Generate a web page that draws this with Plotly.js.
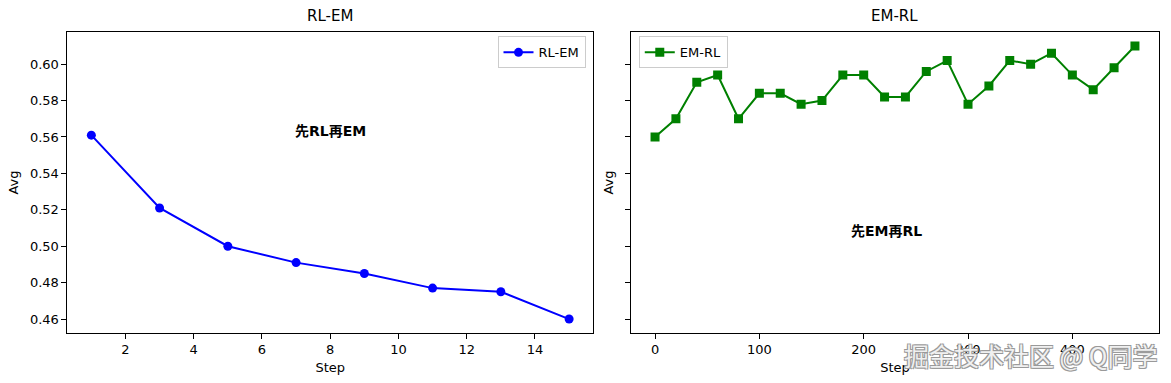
<!DOCTYPE html>
<html>
<head>
<meta charset="utf-8">
<script src="https://cdn.plot.ly/plotly-3.0.1.min.js"></script>
<style>html,body{margin:0;padding:0;background:#fff;}#chart{width:1171px;height:383px;}</style>
</head>
<body>
<div id="chart"></div>
<script>
// Data
const rlemSteps = [1, 3, 5, 7, 9, 11, 13, 15];
const rlemAvg = [0.561, 0.521, 0.500, 0.491, 0.485, 0.477, 0.475, 0.460];
const emrlSteps = [0, 20, 40, 60, 80, 100, 120, 140, 160, 180, 200, 220, 240, 260, 280, 300, 320, 340, 360, 380, 400, 420, 440, 460];
const emrlAvg = [0.560, 0.570, 0.590, 0.594, 0.570, 0.584, 0.584, 0.578, 0.580, 0.594, 0.594, 0.582, 0.582, 0.596, 0.602, 0.578, 0.588, 0.602, 0.600, 0.606, 0.594, 0.586, 0.598, 0.610];
const titles = ["RL-EM", "EM-RL"];
const notes = ["先RL再EM", "先EM再RL"];
const watermark = "掘金技术社区 @ Q同学";

const FONT = "DejaVu Sans, Noto Sans CJK SC, sans-serif";

const traces = [
  {x: rlemSteps, y: rlemAvg, name: "RL-EM", mode: "lines+markers", type: "scatter",
   xaxis: "x", yaxis: "y", legend: "legend",
   line: {color: "#0000ff", width: 2}, marker: {symbol: "circle", size: 9, color: "#0000ff"}},
  {x: emrlSteps, y: emrlAvg, name: "EM-RL", mode: "lines+markers", type: "scatter",
   xaxis: "x2", yaxis: "y2", legend: "legend2",
   line: {color: "#008000", width: 2}, marker: {symbol: "square", size: 9, color: "#008000"}}
];

const axisCommon = {
  showgrid: false, zeroline: false, showline: true, mirror: true,
  linecolor: "#000", linewidth: 1, ticks: "outside", ticklen: 5, tickwidth: 1, tickcolor: "#000",
  tickfont: {family: FONT, size: 13, color: "#000"}, automargin: false
};

const layout = {
  width: 1171, height: 383,
  margin: {l: 0, r: 0, t: 0, b: 0},
  paper_bgcolor: "#fff", plot_bgcolor: "#fff",
  showlegend: true,
  font: {family: FONT, color: "#000"},
  xaxis: Object.assign({}, axisCommon, {domain: [0.0576, 0.5064], range: [0.3, 15.7], dtick: 2, tick0: 0,
    title: {text: "Step", font: {family: FONT, size: 13}, standoff: 6}}),
  yaxis: Object.assign({}, axisCommon, {domain: [0.1313, 0.9157], range: [0.4525, 0.6175], dtick: 0.02, tick0: 0, tickformat: ".2f",
    title: {text: "Avg", font: {family: FONT, size: 13}, standoff: 8}}),
  xaxis2: Object.assign({}, axisCommon, {anchor: "y2", domain: [0.5389, 0.9897], range: [-23, 483], dtick: 100, tick0: 0,
    title: {text: "Step", font: {family: FONT, size: 13}, standoff: 6}}),
  yaxis2: Object.assign({}, axisCommon, {anchor: "x2", domain: [0.1313, 0.9157], range: [0.4525, 0.6175], dtick: 0.02, tick0: 0,
    showticklabels: false, matches: "y",
    title: {text: "Avg", font: {family: FONT, size: 13}, standoff: 8}}),
  legend: {x: 0.5, xanchor: "right", y: 0.905, yanchor: "top", xref: "paper", yref: "paper",
    bgcolor: "rgba(255,255,255,0.8)", bordercolor: "#cccccc", borderwidth: 1,
    font: {family: FONT, size: 13}, itemwidth: 30},
  legend2: {x: 0.5455, xanchor: "left", y: 0.905, yanchor: "top", xref: "paper", yref: "paper",
    bgcolor: "rgba(255,255,255,0.8)", bordercolor: "#cccccc", borderwidth: 1,
    font: {family: FONT, size: 13}, itemwidth: 30},
  annotations: [
    {text: titles[0], xref: "x domain", yref: "paper", x: 0.5, y: 0.93, yanchor: "bottom", showarrow: false,
     font: {family: FONT, size: 15}},
    {text: titles[1], xref: "x2 domain", yref: "paper", x: 0.5, y: 0.93, yanchor: "bottom", showarrow: false,
     font: {family: FONT, size: 15}},
    {text: notes[0], xref: "x", yref: "y", x: 8, y: 0.5635, showarrow: false,
     font: {family: FONT, size: 14, weight: "bold"}},
    {text: notes[1], xref: "x2", yref: "y2", x: 222, y: 0.5085, showarrow: false,
     font: {family: FONT, size: 14, weight: "bold"}},
    {text: watermark, xref: "paper", yref: "paper", x: 0.99, y: 0.073, xanchor: "right", yanchor: "middle", showarrow: false,
     font: {family: "Noto Sans CJK SC, sans-serif", size: 25, color: "#f0f0f0",
            shadow: "-1px -1px 0 #999, 1px -1px 0 #999, -1px 1px 0 #999, 1px 1px 0 #999"}}
  ]
};

Plotly.newPlot("chart", traces, layout, {staticPlot: true, displayModeBar: false});
</script>
</body>
</html>
